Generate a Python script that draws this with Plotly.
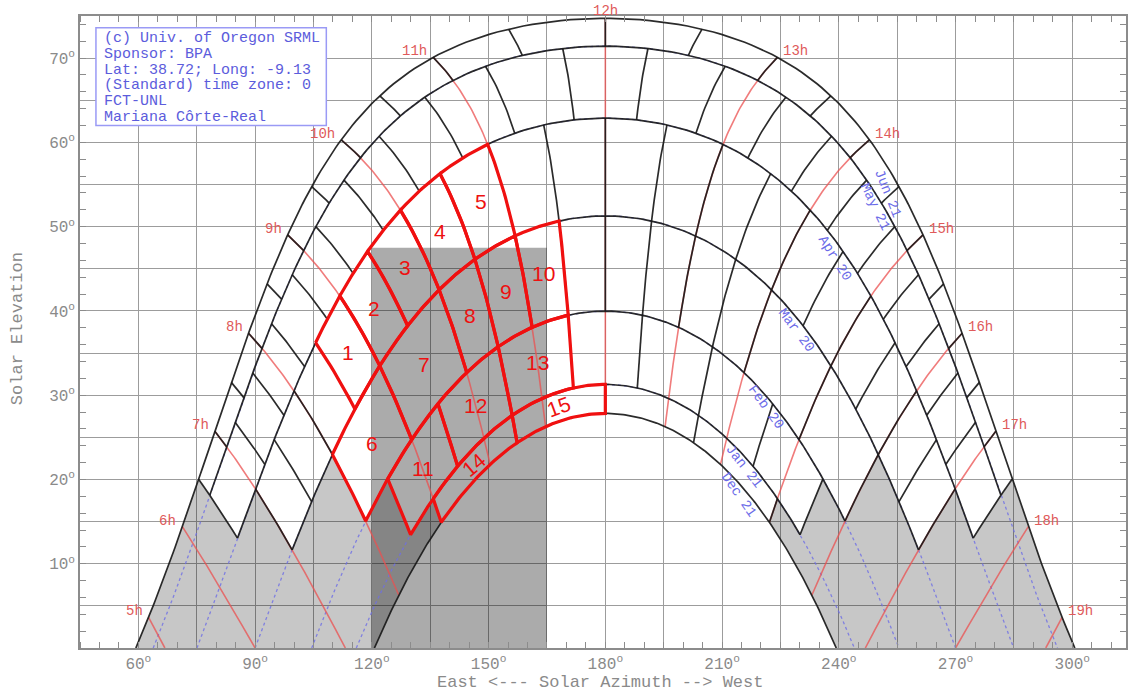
import numpy as np
import plotly.graph_objects as go

# ---------------- data ----------------
LATITUDE = 38.72

date_names = ["Jun 21", "May 21", "Apr 20", "Mar 20", "Feb 20", "Jan 21", "Dec 21"]
declinations = [23.44, 20.14, 11.6, 0.0, -11.3, -20.0, -23.44]

hour_marks = list(range(5, 20))
hour_labels = [f"{h}h" for h in hour_marks]

# morning rung times (solar hours) of each band between consecutive date lines;
# afternoon rungs are the mirror image about solar noon
band_rungs_am = [
    [6.5, 7.0, 7.5, 8.0, 8.5, 9.0, 9.5, 10.0, 10.5, 11.0, 11.5, 12.0],
    [6.5, 7.25, 7.75, 8.25, 8.75, 9.25, 9.75, 10.25, 10.75, 11.25, 11.75],
    [7.0, 7.5, 8.0, 8.5, 9.0, 9.5, 10.0, 10.5, 11.0, 11.5, 12.0],
    [8.0, 9.0, 10.0, 10.5, 11.0, 11.5, 12.0],
    [8.5, 9.5, 10.5, 11.5],
    [9.0, 10.5, 12.0],
]

# highlighted sky cells: number, band index, start hour, end hour
cell_numbers = list(range(1, 16))
cell_bands = [2, 2, 2, 2, 2, 3, 3, 3, 3, 3, 4, 4, 4, 5, 5]
cell_start = [8.5, 9.0, 9.5, 10.0, 10.5, 8.0, 9.0, 10.0, 10.5, 11.0, 8.5, 9.5, 10.5, 9.0, 10.5]
cell_end = [9.0, 9.5, 10.0, 10.5, 11.0, 9.0, 10.0, 10.5, 11.0, 11.5, 9.5, 10.5, 11.5, 10.5, 12.0]
cell_label_angle = [0, 0, 0, 0, 0, 0, 0, 0, 0, 0, 0, 0, 0, -40, -20]

# obstruction (building) seen from the site
obstacle_az = [120, 165]
obstacle_alt = 47.5

x_tick_values = list(range(45, 316, 15))
y_tick_values = list(range(0, 76, 5))

info_lines = [
    "(c) Univ. of Oregon SRML",
    "Sponsor: BPA",
    "Lat: 38.72; Long: -9.13",
    "(Standard) time zone: 0",
    "FCT-UNL",
    "Mariana Côrte-Real",
]

# date label placement (azimuth, elevation, angle)
date_label_az = [252.6, 249.2, 239.0, 229.0, 221.3, 215.6, 214.4]
date_label_alt = [54.0, 52.4, 46.3, 37.7, 28.6, 21.6, 18.2]
date_label_angle = [68, 64, 58, 53, 54, 52, 55]

# ---------------- solar geometry ----------------
phi = np.radians(LATITUDE)


def sun(dec, hour):
    d = np.radians(np.asarray(dec, dtype=float))
    H = np.radians(15.0 * (np.asarray(hour, dtype=float) - 12.0))
    s = np.sin(phi) * np.sin(d) + np.cos(phi) * np.cos(d) * np.cos(H)
    alt = np.degrees(np.arcsin(np.clip(s, -1, 1)))
    az = np.degrees(np.arctan2(np.sin(H), np.cos(H) * np.sin(phi) - np.tan(d) * np.cos(phi))) + 180.0
    return az, alt


def sunrise_hour(dec):
    c = -np.tan(phi) * np.tan(np.radians(dec))
    return 12.0 - np.degrees(np.arccos(np.clip(c, -1, 1))) / 15.0


def date_path(dec, h0, h1, n=120):
    hrs = np.linspace(h0, h1, n)
    return sun(np.full_like(hrs, dec), hrs)


def hour_path(hour, d0, d1, n=60):
    decs = np.linspace(d0, d1, n)
    return sun(decs, np.full_like(decs, hour))


def clip_horizon(az, alt):
    keep_x, keep_y = [], []
    for i in range(len(az)):
        if alt[i] >= 0:
            keep_x.append(az[i]); keep_y.append(alt[i])
        elif i > 0 and alt[i - 1] > 0:
            t = alt[i - 1] / (alt[i - 1] - alt[i])
            keep_x.append(az[i - 1] + t * (az[i] - az[i - 1])); keep_y.append(0.0)
    return keep_x, keep_y


def join(segments):
    xs, ys = [], []
    for sx, sy in segments:
        xs += list(sx) + [None]
        ys += list(sy) + [None]
    return xs, ys


band_rungs = []
for am in band_rungs_am:
    full = sorted(set(am + [24.0 - h for h in am]))
    band_rungs.append(full)
n_bands = len(band_rungs)

fig = go.Figure()

# ---------------- shaded horizon mask (below the lowest sky cells) ----------------
def mask_outline(mirror):
    f = (lambda h: 24.0 - h) if mirror else (lambda h: h)
    pts_x, pts_y = [], []
    first = [r[0] for r in band_rungs]
    ax, al = date_path(declinations[0], f(sunrise_hour(declinations[0])), f(first[0]))
    pts_x += list(ax); pts_y += list(al)
    for k in range(n_bands):
        ax, al = hour_path(f(first[k]), declinations[k], declinations[k + 1])
        pts_x += list(ax); pts_y += list(al)
        if k + 1 < n_bands:
            ax, al = date_path(declinations[k + 1], f(first[k]), f(first[k + 1]))
            pts_x += list(ax); pts_y += list(al)
    ax, al = date_path(declinations[-1], f(first[-1]), f(sunrise_hour(declinations[-1])))
    pts_x += list(ax); pts_y += list(al)
    return pts_x, pts_y


for mirror in (False, True):
    mx, my = mask_outline(mirror)
    fig.add_trace(go.Scatter(x=mx, y=my, mode="lines", fill="toself",
                             fillcolor="rgba(0,0,0,0.22)", line=dict(width=0),
                             hoverinfo="skip", showlegend=False))

# obstruction rectangle
fig.add_trace(go.Scatter(
    x=[obstacle_az[0], obstacle_az[1], obstacle_az[1], obstacle_az[0], obstacle_az[0]],
    y=[0, 0, obstacle_alt, obstacle_alt, 0],
    mode="lines", fill="toself", fillcolor="rgba(0,0,0,0.33)", line=dict(width=0),
    hoverinfo="skip", showlegend=False))

# ---------------- dotted date lines ----------------
segs = []
for dec in declinations[1:-1]:
    hr = sunrise_hour(dec)
    segs.append(date_path(dec, hr, 24.0 - hr, 240))
dx, dy = join(segs)
fig.add_trace(go.Scatter(x=dx, y=dy, mode="lines",
                         line=dict(color="rgba(110,110,230,0.8)", width=1.3, dash="dot"),
                         hoverinfo="skip", showlegend=False))

# ---------------- hour lines ----------------
segs = []
for h in hour_marks:
    ax, al = hour_path(h, declinations[0], declinations[-1], 120)
    segs.append(clip_horizon(ax, al))
hx, hy = join(segs)
fig.add_trace(go.Scatter(x=hx, y=hy, mode="lines",
                         line=dict(color="rgba(235,80,80,0.75)", width=1.6),
                         hoverinfo="skip", showlegend=False))

# ---------------- sky cell grid ----------------
segs = []
for i, dec in enumerate(declinations):
    if i == 0 or i == len(declinations) - 1:
        hr = sunrise_hour(dec)
        segs.append(date_path(dec, hr, 24.0 - hr, 300))
    else:
        lo = min(band_rungs[i - 1][0], band_rungs[i][0])
        hi = max(band_rungs[i - 1][-1], band_rungs[i][-1])
        segs.append(date_path(dec, lo, hi, 240))
for k, rungs in enumerate(band_rungs):
    for h in rungs:
        segs.append(hour_path(h, declinations[k], declinations[k + 1], 20))
gx, gy = join(segs)
fig.add_trace(go.Scatter(x=gx, y=gy, mode="lines",
                         line=dict(color="rgba(25,25,25,0.92)", width=1.7),
                         hoverinfo="skip", showlegend=False))

# ---------------- highlighted cells ----------------
segs = []
for b, h0, h1 in zip(cell_bands, cell_start, cell_end):
    d_top, d_bot = declinations[b], declinations[b + 1]
    parts = [hour_path(h0, d_top, d_bot, 20), date_path(d_bot, h0, h1, 40),
             hour_path(h1, d_bot, d_top, 20), date_path(d_top, h1, h0, 40)]
    segs.append((np.concatenate([p[0] for p in parts]), np.concatenate([p[1] for p in parts])))
rx, ry = join(segs)
fig.add_trace(go.Scatter(x=rx, y=ry, mode="lines",
                         line=dict(color="#f01010", width=3.2),
                         hoverinfo="skip", showlegend=False))

annotations = []

# cell numbers
for num, b, h0, h1, ang in zip(cell_numbers, cell_bands, cell_start, cell_end, cell_label_angle):
    cx, cy = sun(0.5 * (declinations[b] + declinations[b + 1]), 0.5 * (h0 + h1))
    annotations.append(dict(x=float(cx), y=float(cy), text=str(num), showarrow=False,
                            textangle=ang, font=dict(family="Liberation Sans", size=21, color="#ee1111")))

# hour labels on the Jun 21 line
hour_font = dict(family="Liberation Mono", size=14, color="#e05a5a")
for h, lab in zip(hour_marks, hour_labels):
    px_, py_ = sun(declinations[0], h)
    if h < 12:
        annotations.append(dict(x=float(px_), y=float(py_), text=lab, showarrow=False,
                                xanchor="right", yanchor="middle", xshift=-4, yshift=6, font=hour_font))
    elif h == 12:
        annotations.append(dict(x=float(px_), y=float(py_), text=lab, showarrow=False,
                                xanchor="center", yanchor="bottom", yshift=-3, font=hour_font))
    else:
        annotations.append(dict(x=float(px_), y=float(py_), text=lab, showarrow=False,
                                xanchor="left", yanchor="middle", xshift=4, yshift=6, font=hour_font))

# date labels
for name, ax_, al_, ang in zip(date_names, date_label_az, date_label_alt, date_label_angle):
    annotations.append(dict(x=ax_, y=al_, text=name, showarrow=False, textangle=ang,
                            font=dict(family="Liberation Mono", size=14, color="#6b6be8")))

# info box text
for i, line in enumerate(info_lines):
    annotations.append(dict(x=50.6, y=72.3 - 1.86 * i, text=line, showarrow=False,
                            xanchor="left", yanchor="middle",
                            font=dict(family="Liberation Mono", size=15, color="#5c5cdc")))

# axis titles
annotations.append(dict(xref="paper", yref="paper", x=0.497, y=-0.054, text="East <--- Solar Azimuth --> West",
                        showarrow=False, xanchor="center", yanchor="middle",
                        font=dict(family="Liberation Mono", size=17, color="#8a8a8a")))
annotations.append(dict(xref="paper", yref="paper", x=-0.059, y=0.505, text="Solar Elevation",
                        showarrow=False, textangle=-90, xanchor="center", yanchor="middle",
                        font=dict(family="Liberation Mono", size=17, color="#8a8a8a")))

shapes = [dict(type="rect", xref="x", yref="y", x0=49.1, x1=108.3, y0=62.0, y1=73.6,
               line=dict(color="#9a9af5", width=1.5), fillcolor="white", layer="above")]

x_tick_text = [f"{v}<sup>o</sup>" if (v % 30 == 0 and v >= 60) else "" for v in x_tick_values]
y_tick_text = [f"{v}<sup>o</sup>" if (v % 10 == 0 and v > 0) else "" for v in y_tick_values]

axis_common = dict(showline=True, linecolor="#8c8c8c", linewidth=1.5, mirror="allticks",
                   showgrid=True, gridcolor="#9c9c9c", gridwidth=1.3, zeroline=False,
                   ticks="", tickfont=dict(family="Liberation Mono", size=16, color="#8a8a8a"))

fig.update_layout(
    width=1128, height=695,
    margin=dict(l=80, r=0, t=16, b=47),
    paper_bgcolor="white", plot_bgcolor="white",
    xaxis=dict(range=[45, 313.8], tickmode="array", tickvals=x_tick_values, ticktext=x_tick_text,
               ticklabelstandoff=0,
               minor=dict(dtick=5, tick0=0, ticks="inside", ticklen=6, tickcolor="#8c8c8c", showgrid=False),
               **axis_common),
    yaxis=dict(range=[0, 75], tickmode="array", tickvals=y_tick_values, ticktext=y_tick_text,
               minor=dict(dtick=2, tick0=0, ticks="inside", ticklen=6, tickcolor="#8c8c8c", showgrid=False),
               **axis_common),
    annotations=annotations,
    shapes=shapes,
    showlegend=False,
)

fig.write_html("out.html")
